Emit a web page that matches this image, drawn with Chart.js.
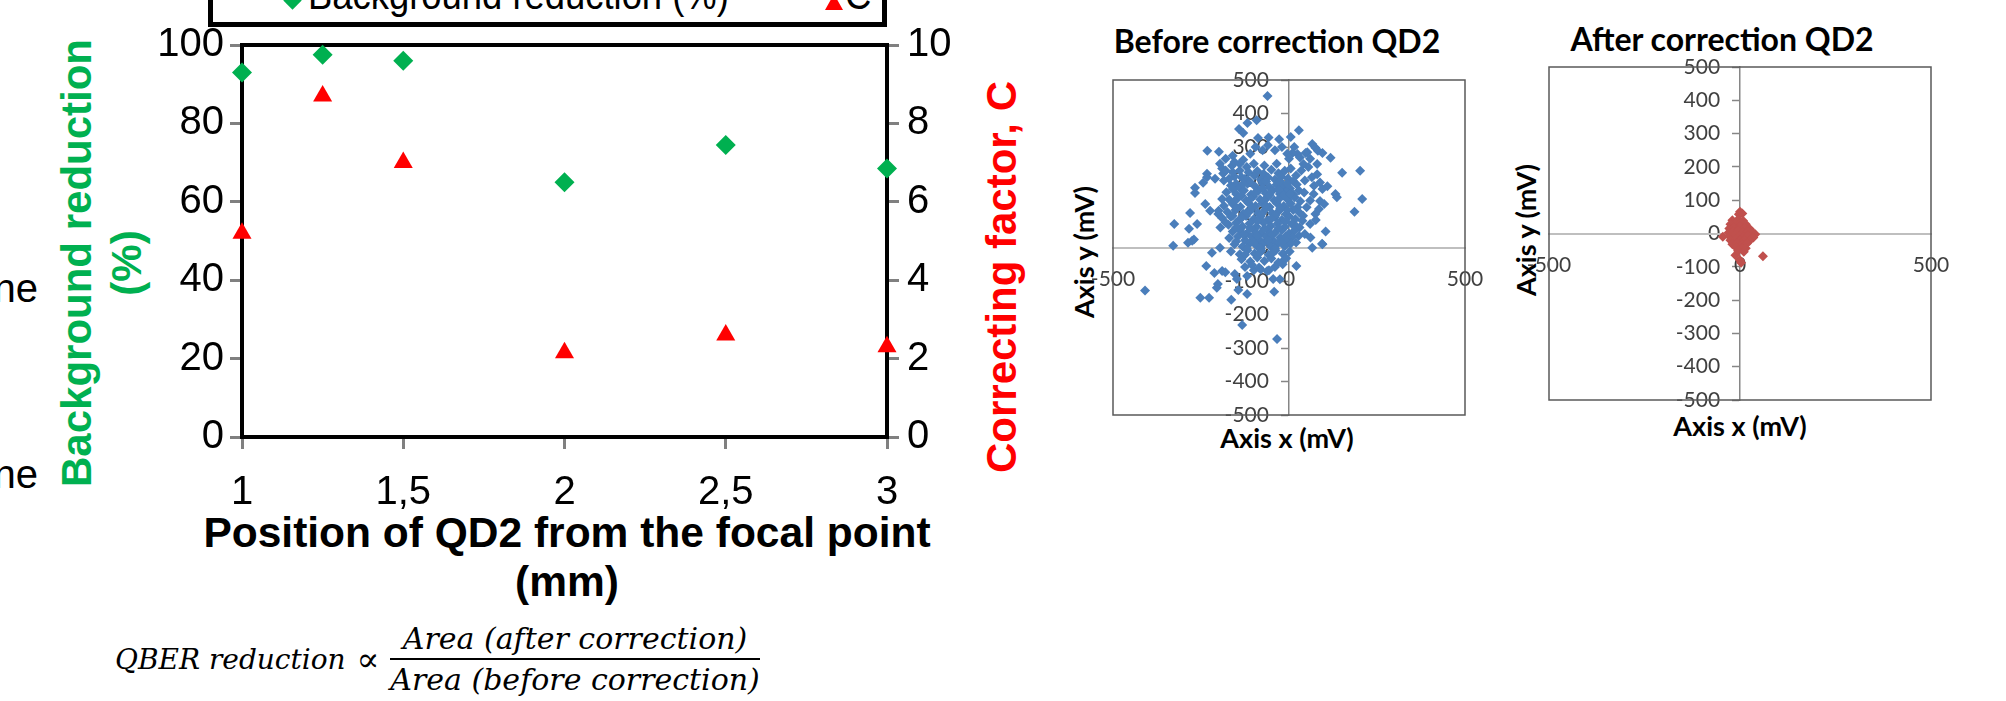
<!DOCTYPE html>
<html><head><meta charset="utf-8">
<script src="https://cdn.jsdelivr.net/npm/chart.js@4.4.0/dist/chart.umd.min.js"></script>
<style>
html,body{margin:0;padding:0;background:#fff;width:2006px;height:701px;overflow:hidden;position:relative;}
.abs{position:absolute;white-space:nowrap;}
canvas{position:absolute;}
.c{transform:translate(-50%,-50%);text-align:center;}
.rot{transform:translate(-50%,-50%) rotate(-90deg);text-align:center;}
.lato{font-family:Lato,'Open Sans',sans-serif;font-weight:bold;color:#000;}
</style></head><body>

<div class="abs" style="left:208px;top:-70px;width:669px;height:87px;border:5px solid #000;"></div>
<div class="abs" style="left:286px;top:-6px;width:13px;height:13px;background:#00B050;transform:rotate(45deg);"></div>
<div class="abs" style="left:308px;top:-28px;font:40px 'Liberation Sans',Arial,sans-serif;line-height:46px;transform:scaleX(0.91);transform-origin:0 0;">Background reduction (%)</div>
<div class="abs" style="left:825px;top:-6px;width:0;height:0;border-left:9px solid transparent;border-right:9px solid transparent;border-bottom:16px solid #FF0000;"></div>
<div class="abs" style="left:845px;top:-28px;font:40px 'Liberation Sans',Arial,sans-serif;line-height:46px;transform:scaleX(0.91);transform-origin:0 0;">C</div>

<div class="abs" style="left:-40px;top:266px;font:40px 'Liberation Sans',Arial,sans-serif;width:78px;text-align:right;">ne</div>
<div class="abs" style="left:-40px;top:452px;font:40px 'Liberation Sans',Arial,sans-serif;width:78px;text-align:right;">ne</div>

<div class="abs rot" style="left:102px;top:263px;font:bold 42px 'Liberation Sans',Arial,sans-serif;color:#00B050;line-height:50px;">Background reduction<br>(%)</div>
<div class="abs rot" style="left:1002px;top:277px;font:bold 42px 'Liberation Sans',Arial,sans-serif;color:#FF0000;line-height:50px;">Correcting factor, C</div>
<div class="abs c" style="left:567px;top:557px;font:bold 42.5px 'Liberation Sans',Arial,sans-serif;line-height:49px;">Position of QD2 from the focal point<br>(mm)</div>

<div class="abs" style="left:115px;top:621px;font:italic 30px 'DejaVu Serif',serif;display:flex;align-items:center;">
  <span style="font-size:28px;">QBER reduction</span><span style="font-size:34px;font-style:normal;">&nbsp;∝&nbsp;</span>
  <span style="display:inline-block;text-align:center;">
    <span style="display:block;border-bottom:2px solid #000;padding:0 2px 2px 2px;">Area (after correction)</span>
    <span style="display:block;padding-top:2px;">Area (before correction)</span>
  </span>
</div>

<div class="abs c lato" style="left:1277px;top:40px;font-size:32px;">Before correction QD2</div>
<div class="abs rot lato" style="left:1083px;top:252px;font-size:27px;">Axis y (mV)</div>
<div class="abs c lato" style="left:1287px;top:437px;font-size:27px;">Axis x (mV)</div>

<div class="abs c lato" style="left:1722px;top:38px;font-size:32px;">After correction QD2</div>
<div class="abs rot lato" style="left:1525px;top:230px;font-size:27px;">Axis y (mV)</div>
<div class="abs c lato" style="left:1740px;top:425px;font-size:27px;">Axis x (mV)</div>

<canvas id="main" width="1000" height="560" style="left:0;top:0;width:1000px;height:560px;"></canvas>
<canvas id="before" width="460" height="460" style="left:1060px;top:0;width:460px;height:460px;"></canvas>
<canvas id="after" width="480" height="460" style="left:1500px;top:0;width:480px;height:460px;"></canvas>

<script>
// ---- main chart data ----
const positions = [1, 1.25, 1.5, 2, 2.5, 3];
const backgroundReduction = [93, 97.5, 96, 65, 74.5, 68.5];
const correctingFactor = [5.2, 8.7, 7.0, 2.15, 2.6, 2.3];
const mainXTicks = [1, 1.5, 2, 2.5, 3];
const leftTicks = [0, 20, 40, 60, 80, 100];
const rightTicks = [0, 2, 4, 6, 8, 10];

// ---- scatter ticks ----
const scatterYTicks = [-500, -400, -300, -200, -100, 0, 100, 200, 300, 400, 500];
const scatterXTicks = [-500, 0, 500];

// ---- before correction QD2 points [x mV, y mV] ----
const beforeOutliers = [
  [-61,452],[-92,380],[-118,372],[-142,354],[-130,342],[-88,327],[-58,328],[-28,323],[5,330],[28,350],
  [-232,289],[-199,286],[-160,274],[66,309],[75,298],[82,289],[95,282],[118,268],[151,223],[202,229],
  [208,145],[186,107],[132,160],[136,150],[109,183],[88,139],[76,82],[104,48],[95,10],[66,-1],[61,30],[28,35],
  [-196,250],[-190,236],[-187,221],[-162,244],[-233,220],[-233,210],[-267,178],[-267,163],[-244,193],[-210,205],
  [-238,130],[-224,110],[-281,103],[-201,100],[-326,70],[-284,56],[-261,70],[-275,20],[-270,24],[-329,5],[-219,-16],
  [-409,-128],[-252,-150],[-227,-150],[-164,-156],[-119,-139],[-144,-127],[-205,-120],[-202,-109],[-235,-55],
  [-212,-76],[-190,-70],[-181,-74],[-196,-1],[-133,-231],[-34,-273],[-42,-132],[-45,-94],[21,-55],[-18,-50],
  [-20,-43],[-62,-70],[-80,-66],[-100,-68],[-154,-79],[-148,-94],[-119,-85],[-287,14],[94,11],[-26,-95],[-57,-68]
];
const beforeLobes = [
  [24,279],[31,269],[52,284],[41,249],[80,249],[80,219],[88,194],[71,184],[43,164],[47,282],[10,282],[-5,280],
  [15,300],[0,265],[60,265],[35,230],[55,240],[65,210],[20,215],[45,200],[95,175],[70,160],[100,130],[60,140],
  [85,115],[50,120],[75,100],[40,95],[60,70],[30,60],[45,40],[20,15],
  [-180,265],[-155,255],[-130,262],[-110,280],[-95,300],[-75,290],[-60,305],[-40,290],[-20,300],[-140,230],
  [-120,240],[-100,250],[-170,205],[-150,190],[-135,210],[-115,200]
];
const beforeCore = [
  [-90,228],[-72,220],[-50,232],[-30,222],[-12,229],[5,236],
  [-155,212],[-125,205],[-98,214],[-80,202],[-60,210],[-40,203],[-22,212],[-3,206],[12,198],
  [-165,185],[-140,178],[-118,190],[-96,182],[-75,192],[-55,180],[-35,188],[-15,183],[3,176],[22,188],
  [-178,165],[-150,160],[-128,170],[-108,158],[-88,168],[-66,162],[-46,171],[-26,160],[-8,168],[12,158],[28,170],
  [-170,143],[-145,148],[-122,140],[-102,152],[-82,143],[-62,150],[-42,141],[-22,152],[-4,143],[16,150],[32,138],
  [-185,125],[-160,130],[-138,122],[-115,133],[-95,124],[-75,131],[-55,121],[-35,133],[-15,124],[5,131],[24,120],
  [-175,106],[-152,112],[-130,101],[-110,110],[-88,103],[-68,113],[-48,102],[-28,110],[-8,100],[12,112],[30,104],
  [-190,88],[-165,92],[-142,82],[-122,94],[-100,85],[-80,93],[-60,82],[-40,91],[-20,83],[0,93],[18,85],[38,80],
  [-172,68],[-150,74],[-132,63],[-112,72],[-92,62],[-72,74],[-52,64],[-32,72],[-12,61],[8,70],[22,62],
  [-160,48],[-140,54],[-120,42],[-100,52],[-80,43],[-60,53],[-40,44],[-20,52],[0,42],[15,50],
  [-170,28],[-145,33],[-125,22],[-105,31],[-85,24],[-65,33],[-45,21],[-25,30],[-5,24],[10,32],
  [-155,10],[-132,3],[-112,12],[-92,5],[-72,13],[-52,2],[-32,11],[-12,4],[5,12],
  [-165,-12],[-140,-20],[-118,-8],[-98,-18],[-78,-10],[-58,-22],[-38,-9],[-18,-19],[2,-12],
  [-135,-35],[-110,-42],[-90,-30],[-70,-40],[-50,-33],[-30,-45],[-8,-32],
  [-125,-58],[-105,-52],[-85,-60],[-40,-58]
];
const beforeDense = [
  [-140,250],[-115,225],[-70,245],[-35,250],[-180,230],[-160,225],
  [-110,195],[-65,197],[-25,197],[-130,190],[-185,200],
  [-160,175],[-75,177],[-30,172],[-5,190],
  [-135,155],[-95,165],[-55,157],[-15,156],[5,160],
  [-155,138],[-110,145],[-70,140],[-30,143],[-190,145],
  [-148,118],[-105,120],[-65,125],[-25,117],[-5,112],
  [-160,95],[-120,105],[-78,100],[-38,97],[-200,110],
  [-180,75],[-135,88],[-90,78],[-50,86],[-10,78],
  [-150,60],[-110,58],[-70,56],[-30,58],[-195,60],
  [-130,40],[-90,35],[-50,38],[-10,33],
  [-150,18],[-100,15],[-60,20],[-20,16],
  [-120,-3],[-80,-2],[-40,-3],
  [-125,-22],[-88,-20],[-48,-18]
];

// ---- after correction QD2 points [x mV, y mV] ----
const afterPoints = [
  [0,65],[6,60],[-3,58],[-45,-10],[60,-68],[-12,-65],[3,-88],[0,-80],
  [-20,40],[-5,42],[8,38],[-25,28],[-12,30],[2,32],[15,28],[-28,15],[-15,18],[0,20],[12,16],[25,14],
  [-30,2],[-18,5],[-5,8],[8,4],[20,6],[32,5],[40,-2],[-28,-8],[-15,-5],[-2,-8],[10,-10],[22,-6],[35,-12],
  [-25,-20],[-12,-18],[0,-22],[12,-20],[25,-22],[-20,-32],[-8,-30],[5,-34],[18,-30],[-10,-42],[5,-45],
  [15,-44],[-5,-52],[10,-55]
];

const arialF = "'Liberation Sans',Arial,sans-serif";
const toXY = arr => arr.map(p => ({x: p[0], y: p[1]}));

const mainFrame = {
  id: 'mainFrame',
  beforeDatasetsDraw(chart) {
    const {ctx, chartArea: a} = chart;
    ctx.save();
    ctx.strokeStyle = '#000'; ctx.lineWidth = 4;
    ctx.strokeRect(a.left, a.top, a.right - a.left, a.bottom - a.top);
    ctx.restore();
  }
};
const scatterFrame = {
  id: 'scatterFrame',
  beforeDatasetsDraw(chart) {
    const {ctx, chartArea: a} = chart;
    ctx.save();
    ctx.strokeStyle = '#595959'; ctx.lineWidth = 1.5;
    ctx.strokeRect(a.left, a.top, a.right - a.left, a.bottom - a.top);
    ctx.restore();
  }
};

new Chart(document.getElementById('main'), {
  type: 'scatter',
  data: { datasets: [
    { label: 'Background reduction (%)', data: positions.map((x, i) => ({x, y: backgroundReduction[i]})),
      yAxisID: 'yL', pointStyle: 'rectRot', pointRadius: 10, backgroundColor: '#00B050', borderWidth: 0, clip: false },
    { label: 'C', data: positions.map((x, i) => ({x, y: correctingFactor[i]})),
      yAxisID: 'yR', pointStyle: 'triangle', pointRadius: 11, backgroundColor: '#FF0000', borderWidth: 0, clip: false }
  ]},
  options: {
    responsive: false, animation: false, devicePixelRatio: 1,
    layout: { padding: { left: 0, top: 45, right: 0, bottom: 0 } },
    plugins: { legend: { display: false }, tooltip: { enabled: false } },
    scales: {
      x: { type: 'linear', min: 1, max: 3,
        afterBuildTicks: s => { s.ticks = mainXTicks.map(v => ({value: v})); },
        ticks: { callback: v => String(v).replace('.', ','), font: { family: arialF, size: 40 }, color: '#000', padding: 20, maxRotation: 0, autoSkip: false },
        grid: { drawOnChartArea: false, drawTicks: true, tickLength: 12, tickColor: '#808080', tickWidth: 3 },
        border: { display: false },
        afterFit: s => { s.height = 560 - 437; } },
      yL: { type: 'linear', position: 'left', min: 0, max: 100,
        afterBuildTicks: s => { s.ticks = leftTicks.map(v => ({value: v})); },
        ticks: { font: { family: arialF, size: 40 }, color: '#000', padding: 6, autoSkip: false },
        grid: { drawOnChartArea: false, drawTicks: true, tickLength: 12, tickColor: '#808080', tickWidth: 3 },
        border: { display: false },
        afterFit: s => { s.width = 242; } },
      yR: { type: 'linear', position: 'right', min: 0, max: 10,
        afterBuildTicks: s => { s.ticks = rightTicks.map(v => ({value: v})); },
        ticks: { font: { family: arialF, size: 40 }, color: '#000', padding: 8, autoSkip: false },
        grid: { drawOnChartArea: false, drawTicks: true, tickLength: 12, tickColor: '#808080', tickWidth: 3 },
        border: { display: false },
        afterFit: s => { s.width = 1000 - 887; } }
    }
  },
  plugins: [mainFrame]
});

function scatterChart(id, points, color, pad, labelShift) {
  return new Chart(document.getElementById(id), {
    type: 'scatter',
    data: { datasets: [{ data: toXY(points), xAxisID: 'x', yAxisID: 'y', pointStyle: 'rectRot', pointRadius: 5, backgroundColor: color, borderWidth: 0 }] },
    options: {
      responsive: false, animation: false, devicePixelRatio: 1,
      layout: { padding: pad },
      plugins: { legend: { display: false }, tooltip: { enabled: false } },
      scales: {
        y: { type: 'linear', min: -500, max: 500, position: { x: 0 },
          afterBuildTicks: s => { s.ticks = scatterYTicks.map(v => ({value: v})); },
          ticks: { display: false, autoSkip: false },
          grid: { drawOnChartArea: false, drawTicks: true, tickLength: 7, tickColor: '#868686', tickWidth: 1.5 },
          border: { display: true, color: '#868686', width: 1.5 },
          afterFit: s => { s.width = 0; } },
        yLabels: { type: 'linear', axis: 'y', min: -500, max: 500, position: { x: labelShift },
          afterBuildTicks: s => { s.ticks = scatterYTicks.map(v => ({value: v})); },
          ticks: { font: { family: 'Lato', size: 21 }, color: '#404040', autoSkip: false },
          grid: { display: false },
          border: { display: false },
          afterFit: s => { s.width = 0; } },
        x: { type: 'linear', min: -500, max: 500, position: { y: 0 },
          afterBuildTicks: s => { s.ticks = scatterXTicks.map(v => ({value: v})); },
          ticks: { font: { family: 'Lato', size: 21 }, color: '#404040', padding: 19, maxRotation: 0, autoSkip: false },
          grid: { drawOnChartArea: false, drawTicks: false },
          border: { display: true, color: '#BFBFBF', width: 2 },
          afterFit: s => { s.height = 0; } }
      }
    },
    plugins: [scatterFrame]
  });
}

scatterChart('before', [...beforeOutliers, ...beforeLobes, ...beforeCore, ...beforeDense], '#4A7EBB', { left: 53, right: 55, top: 80, bottom: 45 }, -57);
scatterChart('after', afterPoints, '#C0504D', { left: 49, right: 49, top: 67, bottom: 60 }, -52);
</script>
</body></html>
